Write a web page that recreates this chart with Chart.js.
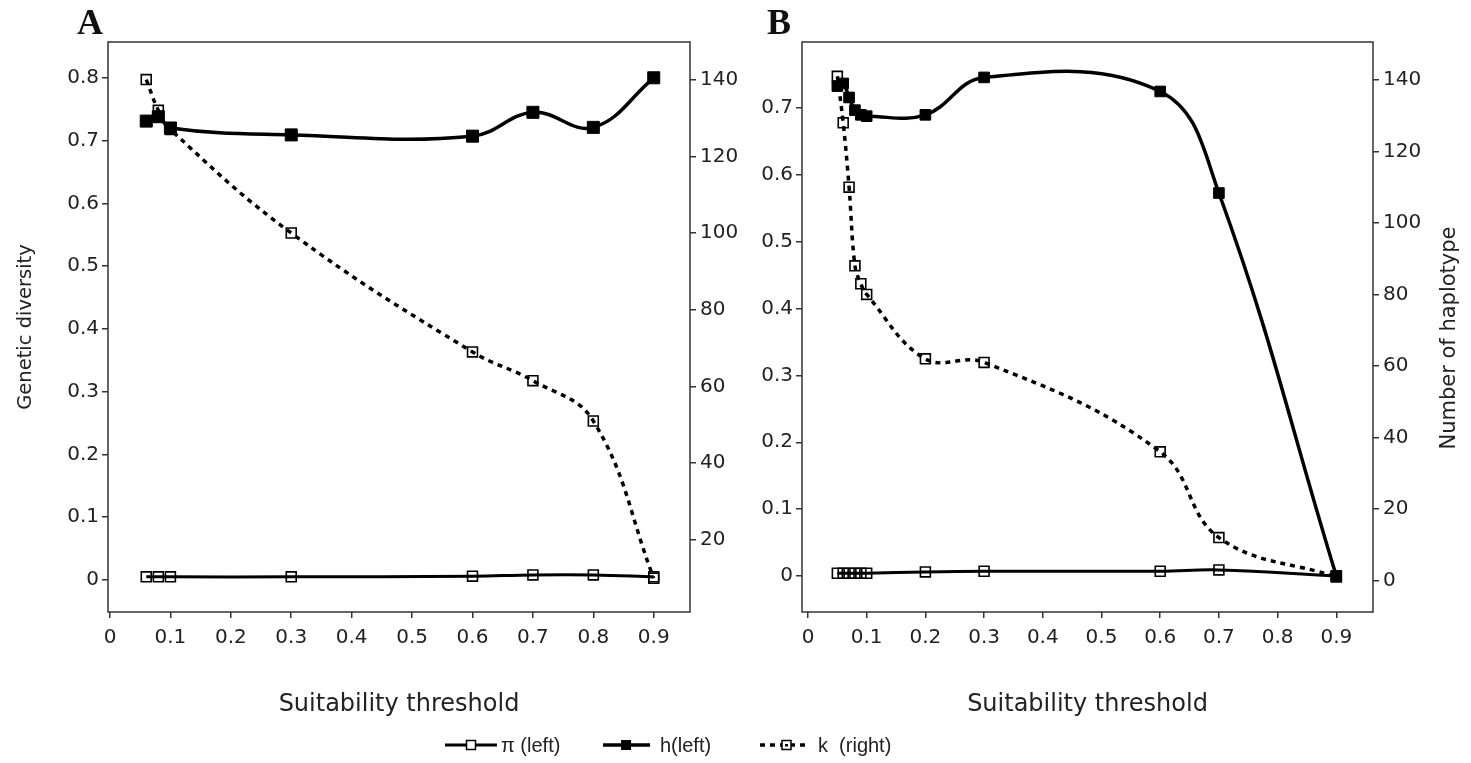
<!DOCTYPE html>
<html><head><meta charset="utf-8">
<script src="https://cdn.jsdelivr.net/npm/chart.js@4.4.0/dist/chart.umd.min.js"></script>
<style>
html,body{margin:0;padding:0;background:#fff;}
#wrap{position:relative;width:1471px;height:763px;overflow:hidden;background:#fff;}
canvas{position:absolute;left:0;top:0;}
.panel{position:absolute;font-family:"Liberation Serif",serif;font-weight:bold;font-size:36px;color:#111;line-height:1;}
.leg{position:absolute;font-family:"Liberation Sans",sans-serif;font-size:20px;color:#222;top:733px;line-height:24px;white-space:pre;}
#legsvg{position:absolute;left:0;top:725px;}
</style></head><body>
<div id="wrap">
<canvas id="cA" width="1471" height="763"></canvas>
<canvas id="cB" width="1471" height="763"></canvas>
<div class="panel" style="left:77px;top:4px">A</div>
<div class="panel" style="left:767px;top:4px">B</div>
<svg id="legsvg" width="1471" height="40">
  <line x1="445" y1="20" x2="497" y2="20" stroke="#000" stroke-width="3"/>
  <rect x="466.5" y="15.5" width="9" height="9" fill="#fff" stroke="#000" stroke-width="1.5"/>
  <line x1="603" y1="20" x2="650" y2="20" stroke="#000" stroke-width="3.5"/>
  <rect x="621" y="15" width="10" height="10" fill="#000"/>
  <line x1="760" y1="20" x2="807" y2="20" stroke="#000" stroke-width="3.5" stroke-dasharray="5,5"/>
  <rect x="782" y="15.5" width="9" height="9" fill="#fff" stroke="#000" stroke-width="1.5"/>
  <rect x="785" y="19" width="3" height="2.5" fill="#000"/>
</svg>
<span class="leg" style="left:501px">π (left)</span>
<span class="leg" style="left:660px">h(left)</span>
<span class="leg" style="left:818px">k  (right)</span>
</div>
<script>
// ---------- data ----------
const thresholdsA = [0.06, 0.08, 0.1, 0.3, 0.6, 0.7, 0.8, 0.9];
const piA = [0.005, 0.005, 0.005, 0.005, 0.006, 0.008, 0.008, 0.005];
const hA  = [0.731, 0.738, 0.720, 0.709, 0.707, 0.745, 0.721, 0.800];
const kA  = [140, 132, 127, 100, 69, 61.5, 51, 10];

const thresholdsB = [0.05, 0.06, 0.07, 0.08, 0.09, 0.1, 0.2, 0.3, 0.6, 0.7, 0.9];
const piB = [0.004, 0.004, 0.004, 0.004, 0.004, 0.004, 0.006, 0.007, 0.007, 0.009, 0];
const hB  = [0.733, 0.737, 0.716, 0.697, 0.690, 0.688, 0.690, 0.746, 0.725, 0.573, 0];
const kB  = [141, 128, 110, 88, 83, 80, 62, 61, 36, 12, 1];

const xTicks = [0, 0.1, 0.2, 0.3, 0.4, 0.5, 0.6, 0.7, 0.8, 0.9];
const yLeftTicksA = [0, 0.1, 0.2, 0.3, 0.4, 0.5, 0.6, 0.7, 0.8];
const yRightTicksA = [20, 40, 60, 80, 100, 120, 140];
const yLeftTicksB = [0, 0.1, 0.2, 0.3, 0.4, 0.5, 0.6, 0.7];
const yRightTicksB = [0, 20, 40, 60, 80, 100, 120, 140];

const xTitle = 'Suitability threshold';
const yLeftTitle = 'Genetic diversity';
const yRightTitle = 'Number of haplotype';
// ---------------------------

const TICK_FONT = {family: 'DejaVu Sans', size: 20};
const TXT = '#222';
const AXC = '#333';

const boxPlugin = {
  id: 'box',
  beforeDatasetsDraw(chart) {
    const a = chart.chartArea, ctx = chart.ctx;
    ctx.save();
    ctx.strokeStyle = AXC; ctx.lineWidth = 1.5;
    ctx.strokeRect(a.left, a.top, a.right - a.left, a.bottom - a.top);
    ctx.restore();
  }
};

function pts(xs, ys) { return xs.map((x, i) => ({x: x, y: ys[i]})); }
function setTicks(arr) { return s => { s.ticks = arr.map(v => ({value: v})); }; }

function datasets(xs, pi, h, k, hRadius) {
  return [
    {label: 'h(left)', data: pts(xs, h), yAxisID: 'y', order: 0,
     borderColor: '#000', borderWidth: 3.5, tension: 0.4,
     pointStyle: 'rect', pointRadius: hRadius, pointBackgroundColor: '#000', pointBorderColor: '#000', pointBorderWidth: 1},
    {label: 'π (left)', data: pts(xs, pi), yAxisID: 'y', order: 1,
     borderColor: '#000', borderWidth: 3, tension: 0.4,
     pointStyle: 'rect', pointRadius: 7, pointBackgroundColor: 'rgba(255,255,255,0)', pointBorderColor: '#000', pointBorderWidth: 1.6},
    {label: 'k (right)', data: pts(xs, k), yAxisID: 'y2', order: 2,
     borderColor: '#000', borderWidth: 3.5, borderDash: [5, 5], tension: 0.4,
     pointStyle: 'rect', pointRadius: 7, pointBackgroundColor: 'rgba(255,255,255,0)', pointBorderColor: '#000', pointBorderWidth: 1.6}
  ];
}

function gridOpts() {
  return {display: true, drawOnChartArea: false, drawTicks: true, tickLength: 6, color: AXC, lineWidth: 1.5};
}

function makeChart(id, o) {
  const extraPlugins = [boxPlugin];
  if (o.customRightTitle) {
    extraPlugins.push({
      id: 'rtitle',
      afterDraw(chart) {
        const ctx = chart.ctx;
        ctx.save();
        ctx.translate(1450, 338);
        ctx.rotate(-Math.PI / 2);
        ctx.font = '21px "DejaVu Sans"';
        ctx.fillStyle = TXT; ctx.textAlign = 'center'; ctx.textBaseline = 'middle';
        ctx.fillText(yRightTitle, 0, 0);
        ctx.restore();
      }
    });
  }
  return new Chart(document.getElementById(id), {
    type: 'line',
    data: {datasets: datasets(o.xs, o.pi, o.h, o.k, o.hRadius)},
    options: {
      responsive: false, animation: false, devicePixelRatio: 1,
      layout: {padding: o.padding},
      plugins: {legend: {display: false}, title: {display: false}, tooltip: {enabled: false}},
      scales: {
        x: {type: 'linear', position: 'bottom', min: o.xMin, max: o.xMax,
            afterBuildTicks: setTicks(xTicks),
            ticks: {font: TICK_FONT, color: TXT, padding: 8, maxRotation: 0, autoSkip: false, callback: v => String(v)},
            grid: gridOpts(), border: {display: false},
            title: {display: true, text: xTitle, font: {family: 'DejaVu Sans', size: 24}, color: TXT, padding: {top: 0, bottom: 4}},
            afterFit: s => { s.height = 111; }},
        y: {type: 'linear', position: 'left', min: o.yMin, max: o.yMax,
            afterBuildTicks: setTicks(o.yTicks),
            ticks: {font: TICK_FONT, color: TXT, padding: 3, callback: v => String(v)},
            grid: gridOpts(), border: {display: false},
            title: {display: !!o.leftTitle, text: yLeftTitle, font: {family: 'DejaVu Sans', size: 19.5}, color: TXT, padding: {top: 14, bottom: 0}},
            afterFit: s => { s.width = o.yWidth; }},
        y2: {type: 'linear', position: 'right', min: o.y2Min, max: o.y2Max,
            afterBuildTicks: setTicks(o.y2Ticks),
            ticks: {font: TICK_FONT, color: TXT, padding: 4, callback: v => String(v)},
            grid: gridOpts(), border: {display: false},
            title: {display: false},
            afterFit: s => { s.width = o.y2Width; }}
      }
    },
    plugins: extraPlugins
  });
}

makeChart('cA', {
  xs: thresholdsA, pi: piA, h: hA, k: kA, hRadius: 8.5,
  padding: {left: 0, top: 42, right: 716, bottom: 40},
  xMin: -0.0033, xMax: 0.960,
  yMin: -0.051, yMax: 0.857, yTicks: yLeftTicksA, yWidth: 108, leftTitle: true,
  y2Min: 1.2, y2Max: 149.8, y2Ticks: yRightTicksA, y2Width: 65
});
makeChart('cB', {
  xs: thresholdsB, pi: piB, h: hB, k: kB, hRadius: 7.5,
  padding: {left: 745, top: 42, right: 0, bottom: 40},
  xMin: -0.0102, xMax: 0.9625,
  yMin: -0.054, yMax: 0.799, yTicks: yLeftTicksB, yWidth: 57, leftTitle: false,
  y2Min: -8.8, y2Max: 150.6, y2Ticks: yRightTicksB, y2Width: 98,
  customRightTitle: true
});
</script>
</body></html>
